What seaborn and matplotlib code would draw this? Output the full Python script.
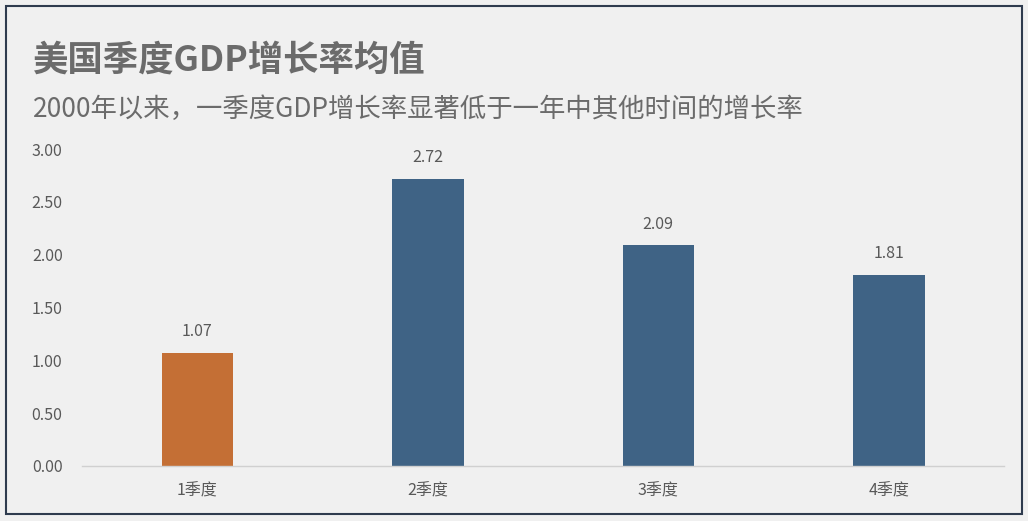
import matplotlib
matplotlib.use('Agg')
import matplotlib.pyplot as plt
import seaborn as sns
import pandas as pd
from matplotlib.patches import Rectangle

# Data
quarters = ['1季度', '2季度', '3季度', '4季度']
growth = [1.07, 2.72, 2.09, 1.81]
bar_colors = ['#c46f35', '#3f6385', '#3f6385', '#3f6385']

title = '美国季度GDP增长率均值'
subtitle = '2000年以来，一季度GDP增长率显著低于一年中其他时间的增长率'

sns.set_theme(style='white')
plt.rcParams['font.family'] = ['Noto Sans CJK SC', 'DejaVu Sans']

bg = '#f0f0f0'
txt = '#595959'

fig = plt.figure(figsize=(10.28, 5.21), dpi=100, facecolor=bg)
ax = fig.add_axes([0.0798, 0.1056, 0.8969, 0.6084])
ax.set_facecolor(bg)

df = pd.DataFrame({'quarter': quarters, 'growth': growth})
sns.barplot(data=df, x='quarter', y='growth', hue='quarter', palette=bar_colors,
            legend=False, width=0.31, saturation=1, linewidth=0, ax=ax)

for c in ax.containers:
    ax.bar_label(c, fmt='%.2f', padding=9, fontsize=11.5, color=txt)

ax.set_xlim(-0.5, 3.5)
ax.set_ylim(0, 3.0)
ax.set_yticks([0, 0.5, 1.0, 1.5, 2.0, 2.5, 3.0])
ax.set_yticklabels([f'{v:.2f}' for v in ax.get_yticks()])
ax.tick_params(axis='y', labelsize=11.5, labelcolor=txt, length=0, pad=14)
ax.tick_params(axis='x', labelsize=11.5, labelcolor=txt, length=0, pad=12)
ax.set_xlabel('')
ax.set_ylabel('')

for side in ['top', 'right', 'left']:
    ax.spines[side].set_visible(False)
ax.spines['bottom'].set_color('#d0d0d0')
ax.spines['bottom'].set_linewidth(1)

fig.text(0.032, 0.884, title, fontsize=25.5, fontweight='bold', color='#6b6b6b', va='center')
fig.text(0.032, 0.790, subtitle, fontsize=19, color='#6b6b6b', va='center')

# outer frame
fig.patches.append(Rectangle((0.006, 0.013), 0.988, 0.976, transform=fig.transFigure,
                             fill=False, edgecolor='#2f3b4e', linewidth=1.5))

plt.savefig('out.png', dpi=100, facecolor=bg)
plt.close()
